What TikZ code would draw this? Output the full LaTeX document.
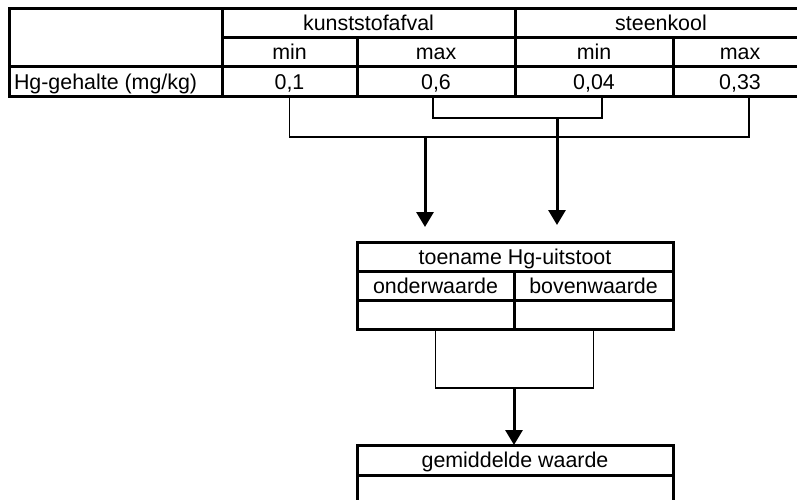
\documentclass[tikz,border=0pt]{standalone}
\usepackage{fontspec}
\setmainfont{Liberation Sans}
\usepackage{tikz}
\usetikzlibrary{positioning,arrows.meta}
\usepackage{xcolor}

\begin{document}
\begin{tikzpicture}[
    x=1pt, y=-1pt,
    cell/.style={draw, line width=3pt, rectangle, inner sep=0pt, outer sep=0pt,
      anchor=north west, text height=17.5pt, text depth=2.5pt,
      font=\fontsize{21.4}{24}\selectfont},
    bracket/.style={line width=1.3pt},
    flow/.style={line width=3pt, -{Triangle[width=17pt,length=15pt]}}
  ]
  \clip (0,0) rectangle (797,500);

  % Top table
  \node[cell, minimum width=213, minimum height=58] (blank) at (9,9) {};
  \node[cell, minimum width=293, minimum height=29] (kunst) at (222,9) {kunststofafval};
  \node[cell, minimum width=292, minimum height=29] (steen) at (515,9) {steenkool};
  \node[cell, minimum width=135, minimum height=29] (kmin) at (222,38) {min};
  \node[cell, minimum width=158, minimum height=29] (kmax) at (357,38) {max};
  \node[cell, minimum width=158, minimum height=29] (smin) at (515,38) {min};
  \node[cell, minimum width=134, minimum height=29] (smax) at (673,38) {max};
  \node[cell, minimum width=213, minimum height=30] (hg) at (9,67) {};
  \node[cell, minimum width=135, minimum height=30] (kminv) at (222,67) {0,1};
  \node[cell, minimum width=158, minimum height=30] (kmaxv) at (357,67) {0,6};
  \node[cell, minimum width=158, minimum height=30] (sminv) at (515,67) {0,04};
  \node[cell, minimum width=134, minimum height=30] (smaxv) at (673,67) {0,33};

  % Row label
  \node[cell, draw=none, anchor=west, right=5pt of hg.west] (hglbl) {Hg-gehalte (mg/kg)};

  % Middle table
  \node[cell, minimum width=316, minimum height=29] (toe) at (357,242) {toename Hg-uitstoot};
  \node[cell, minimum width=157, minimum height=29] (ond) at (357,271) {onderwaarde};
  \node[cell, minimum width=159, minimum height=29] (bov) at (514,271) {bovenwaarde};
  \node[cell, minimum width=157, minimum height=29] (ondv) at (357,300) {};
  \node[cell, minimum width=159, minimum height=29] (bovv) at (514,300) {};

  % Bottom table
  \node[cell, minimum width=316, minimum height=30] (gem) at (357,445) {gemiddelde waarde};
  \node[cell, minimum width=316, minimum height=45] (gemv) at (357,475) {};

  % Brackets
  \draw[bracket] (kminv.south) -- ++(0,40) -| ([xshift=9]smaxv.south);
  \draw[bracket] ([xshift=-3]kmaxv.south) -- ++(0,21) -| ([xshift=8]sminv.south);
  \draw[bracket] (ondv.south) -- ++(0,59) coordinate (mid) -| (bovv.south);

  % Arrows
  \coordinate (a1) at (425,137);
  \coordinate (a1e) at (425,227);
  \coordinate (a2) at (557,118);
  \coordinate (a2e) at (557,225);
  \coordinate (a3) at (514,388);
  \draw[flow] (a1) -- (a1e);
  \draw[flow] (a2) -- (a2e);
  \draw[flow] (a3) -- (a3 |- gem.north);
\end{tikzpicture}
\end{document}
